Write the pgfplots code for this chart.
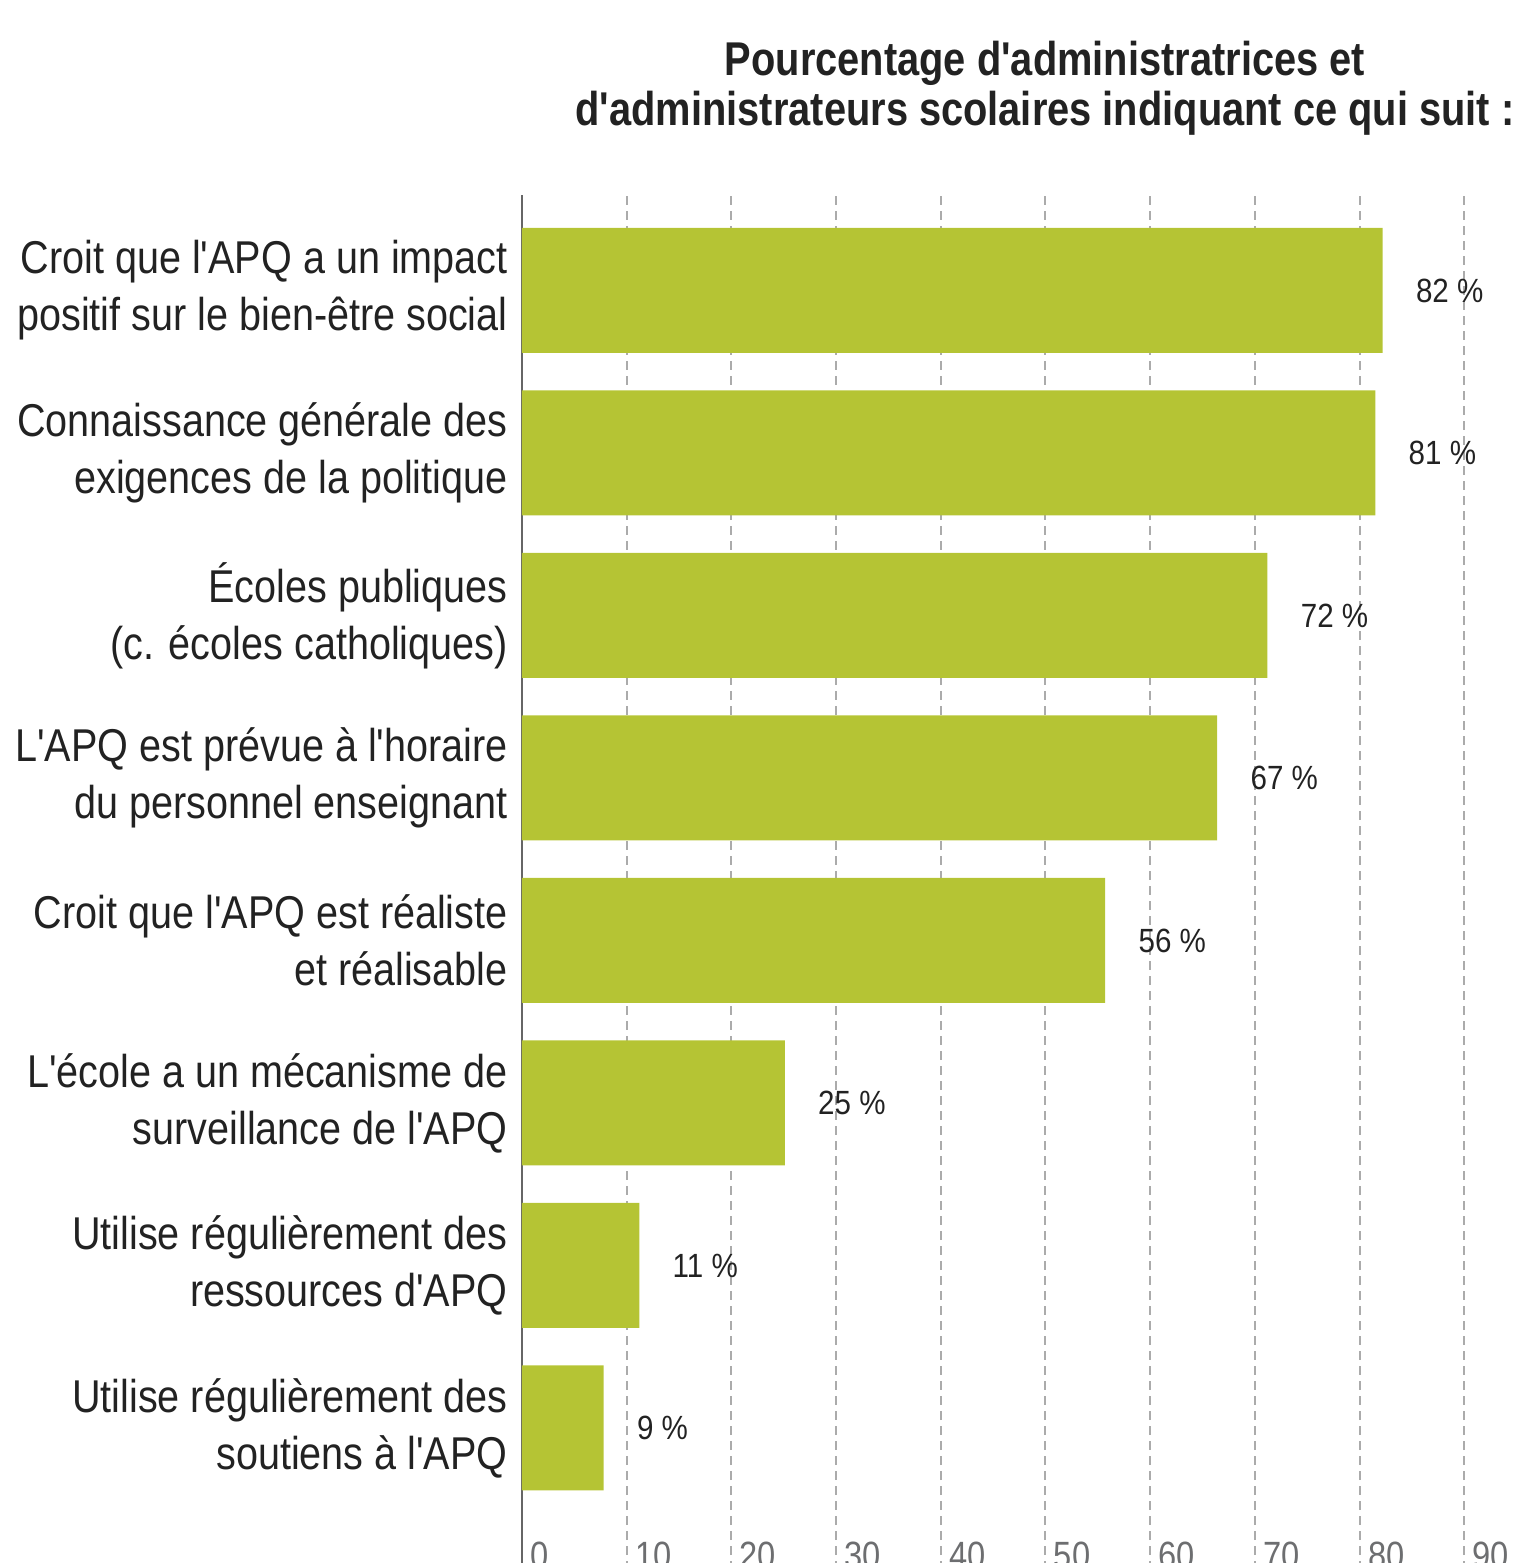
\documentclass[border=0pt]{standalone}
\usepackage{fontspec}
\setmainfont{Liberation Sans}
\newfontfamily\condfont{Liberation Sans}[FakeStretch=0.86, Ligatures=TeXOff]
\newfontfamily\titlefont{Liberation Sans}[FakeStretch=0.84, Ligatures=TeXOff]
\newfontfamily\valfont{Liberation Sans}[FakeStretch=0.88, Ligatures=TeXOff]
\usepackage{pgfplots}
\pgfplotsset{compat=1.18}
\definecolor{barc}{RGB}{181,196,52}
\definecolor{labelblack}{HTML}{222222}
\definecolor{tickgray}{HTML}{6D6E70}
\definecolor{axisgray}{HTML}{666666}
\definecolor{gridgray}{HTML}{ABABAB}
\begin{document}
\begin{tikzpicture}
\begin{axis}[
  name=ax,
  anchor=south west, at={(0,0)},
  scale only axis,
  width=471.15pt, height=687.5pt,
  xmin=0, xmax=90, ymin=-0.874, ymax=7.5877,
  xbar, bar width=62.5pt, bar shift=0pt,
  axis lines*=left,
  x axis line style={draw=none},
  y axis line style={draw=axisgray, line width=1.3pt},
  xtick={0,10,...,90}, ytick={0,...,7},
  major tick length=0pt,
  /pgf/number format/assume math mode=true,
  xmajorgrids,
  grid style={draw=gridgray, line width=1pt, dash pattern=on 4.5pt off 3pt},
  xticklabel style={anchor=north west, inner sep=0pt, xshift=4pt, yshift=14pt, text=tickgray, font=\condfont\fontsize{19}{19}\selectfont},
  yticklabels={
    {Utilise régulièrement des\\soutiens à l'APQ},
    {Utilise régulièrement des\\ressources d'APQ},
    {L'école a un mécanisme de\\surveillance de l'APQ},
    {Croit que l'APQ est réaliste\\et réalisable},
    {L'APQ est prévue à l'horaire\\du personnel enseignant},
    {Écoles publiques\\(c. écoles catholiques)},
    {Connaissance générale des\\exigences de la politique},
    {Croit que l'APQ a un impact\\positif sur le bien-être social}},
  yticklabel style={anchor=east, align=right, inner sep=0pt, xshift=-7pt, text=labelblack, font=\condfont\fontsize{23}{28.5}\selectfont},
  nodes near coords, point meta=explicit symbolic,
  every node near coord/.append style={anchor=west, inner sep=0pt, xshift=16.5pt, text=labelblack, font=\valfont\fontsize{16.8}{18}\selectfont},
  clip=false,
]
\addplot[fill=barc, draw=none] coordinates {
  (7.8,0) [9~\%]
  (11.2,1) [11~\%]
  (25.1,2) [25~\%]
  (55.7,3) [56~\%]
  (66.4,4) [67~\%]
  (71.2,5) [72~\%]
  (81.5,6) [81~\%]
  (82.2,7) [82~\%]
};
\end{axis}
\node[anchor=base, text=labelblack, font=\titlefont\bfseries\fontsize{23.7}{25}\selectfont] at (261.5pt,747pt) {Pourcentage d'administratrices et};
\node[anchor=base, text=labelblack, font=\titlefont\bfseries\fontsize{23.7}{25}\selectfont] at (261.5pt,722pt) {d'administrateurs scolaires indiquant ce qui suit :};
\pgfresetboundingbox
\path[use as bounding box] (-261pt,3.5pt) rectangle (497pt,785pt);
\end{tikzpicture}
\end{document}
